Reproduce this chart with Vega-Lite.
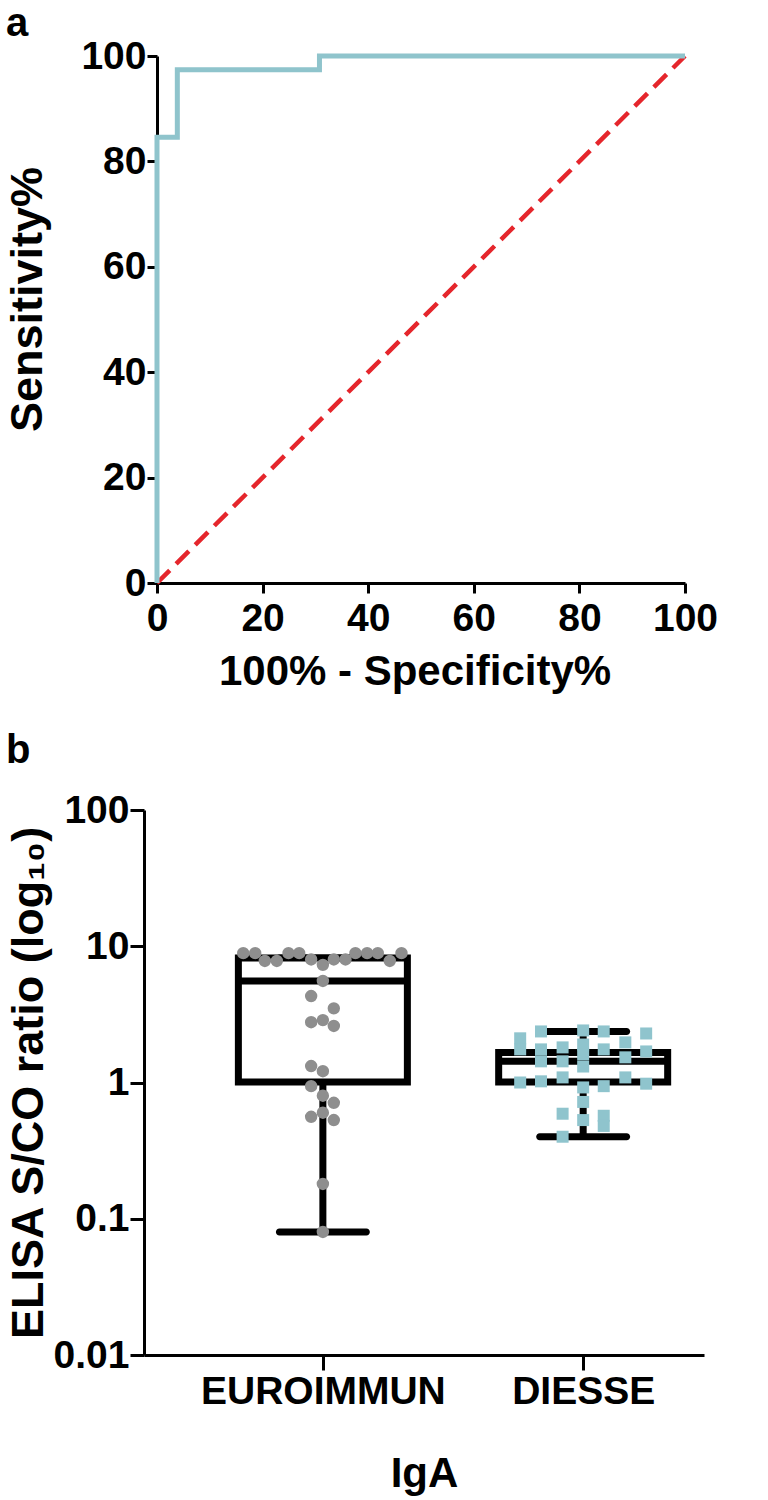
{
  "$schema": "https://vega.github.io/schema/vega-lite/v6.json",
  "background": "white",
  "padding": {"left": 5, "top": 4, "right": 5, "bottom": 5},
  "config": {
    "view": {"stroke": null},
    "font": "Liberation Sans",
    "axis": {
      "domainColor": "black", "domainWidth": 3, "tickColor": "black", "tickWidth": 3,
      "labelFontSize": 39, "labelFontWeight": "bold", "labelColor": "black", "labelLimit": 0,
      "titleFontSize": 42, "titleFontWeight": "bold", "titleColor": "black",
      "grid": false, "labelOverlap": false, "labelFlush": false
    },
    "title": {"fontSize": 40, "fontWeight": "bold", "color": "black", "anchor": "start", "frame": "bounds"}
  },
  "datasets": {
    "roc": [
      {"i": 0, "fpr": 0, "sens": 0},
      {"i": 1, "fpr": 0, "sens": 84.6},
      {"i": 2, "fpr": 3.85, "sens": 84.6},
      {"i": 3, "fpr": 3.85, "sens": 97.4},
      {"i": 4, "fpr": 30.77, "sens": 97.4},
      {"i": 5, "fpr": 30.77, "sens": 100},
      {"i": 6, "fpr": 100, "sens": 100}
    ],
    "ref": [
      {"fpr": 0, "sens": 0},
      {"fpr": 100, "sens": 100}
    ],
    "stats": [
      {"assay": "EUROIMMUN", "pos": 1, "min": 0.08, "q1": 1.01, "med": 5.56, "q3": 8.2, "max": 8.2},
      {"assay": "DIESSE", "pos": 2, "min": 0.40, "q1": 1.01, "med": 1.43, "q3": 1.66, "max": 2.37}
    ],
    "points": [
      {"assay": "EUROIMMUN", "pos": 0.694, "ratio": 8.9},
      {"assay": "EUROIMMUN", "pos": 0.740, "ratio": 8.9},
      {"assay": "EUROIMMUN", "pos": 0.777, "ratio": 7.8},
      {"assay": "EUROIMMUN", "pos": 0.823, "ratio": 7.8},
      {"assay": "EUROIMMUN", "pos": 0.868, "ratio": 8.9},
      {"assay": "EUROIMMUN", "pos": 0.909, "ratio": 8.9},
      {"assay": "EUROIMMUN", "pos": 0.955, "ratio": 8.0},
      {"assay": "EUROIMMUN", "pos": 1.000, "ratio": 7.3},
      {"assay": "EUROIMMUN", "pos": 1.042, "ratio": 8.0},
      {"assay": "EUROIMMUN", "pos": 1.087, "ratio": 8.0},
      {"assay": "EUROIMMUN", "pos": 1.125, "ratio": 8.9},
      {"assay": "EUROIMMUN", "pos": 1.170, "ratio": 8.9},
      {"assay": "EUROIMMUN", "pos": 1.211, "ratio": 8.9},
      {"assay": "EUROIMMUN", "pos": 1.257, "ratio": 7.8},
      {"assay": "EUROIMMUN", "pos": 1.302, "ratio": 8.9},
      {"assay": "EUROIMMUN", "pos": 1.000, "ratio": 5.56},
      {"assay": "EUROIMMUN", "pos": 0.955, "ratio": 4.31},
      {"assay": "EUROIMMUN", "pos": 1.042, "ratio": 3.50},
      {"assay": "EUROIMMUN", "pos": 0.955, "ratio": 2.77},
      {"assay": "EUROIMMUN", "pos": 1.000, "ratio": 2.87},
      {"assay": "EUROIMMUN", "pos": 1.042, "ratio": 2.60},
      {"assay": "EUROIMMUN", "pos": 0.955, "ratio": 1.32},
      {"assay": "EUROIMMUN", "pos": 1.000, "ratio": 1.21},
      {"assay": "EUROIMMUN", "pos": 0.955, "ratio": 0.94},
      {"assay": "EUROIMMUN", "pos": 1.000, "ratio": 0.80},
      {"assay": "EUROIMMUN", "pos": 1.042, "ratio": 0.71},
      {"assay": "EUROIMMUN", "pos": 0.955, "ratio": 0.56},
      {"assay": "EUROIMMUN", "pos": 1.000, "ratio": 0.60},
      {"assay": "EUROIMMUN", "pos": 1.042, "ratio": 0.53},
      {"assay": "EUROIMMUN", "pos": 1.000, "ratio": 0.18},
      {"assay": "EUROIMMUN", "pos": 1.000, "ratio": 0.08},
      {"assay": "DIESSE", "pos": 1.758, "ratio": 2.11},
      {"assay": "DIESSE", "pos": 1.758, "ratio": 1.75},
      {"assay": "DIESSE", "pos": 1.758, "ratio": 1.00},
      {"assay": "DIESSE", "pos": 1.838, "ratio": 2.37},
      {"assay": "DIESSE", "pos": 1.838, "ratio": 1.75},
      {"assay": "DIESSE", "pos": 1.838, "ratio": 1.43},
      {"assay": "DIESSE", "pos": 1.838, "ratio": 1.02},
      {"assay": "DIESSE", "pos": 1.921, "ratio": 1.81},
      {"assay": "DIESSE", "pos": 1.921, "ratio": 1.43},
      {"assay": "DIESSE", "pos": 1.921, "ratio": 1.09},
      {"assay": "DIESSE", "pos": 1.921, "ratio": 0.59},
      {"assay": "DIESSE", "pos": 1.921, "ratio": 0.40},
      {"assay": "DIESSE", "pos": 2.000, "ratio": 2.41},
      {"assay": "DIESSE", "pos": 2.000, "ratio": 1.90},
      {"assay": "DIESSE", "pos": 2.000, "ratio": 1.61},
      {"assay": "DIESSE", "pos": 2.000, "ratio": 1.31},
      {"assay": "DIESSE", "pos": 2.000, "ratio": 0.92},
      {"assay": "DIESSE", "pos": 2.000, "ratio": 0.72},
      {"assay": "DIESSE", "pos": 2.000, "ratio": 0.53},
      {"assay": "DIESSE", "pos": 2.079, "ratio": 2.37},
      {"assay": "DIESSE", "pos": 2.079, "ratio": 1.75},
      {"assay": "DIESSE", "pos": 2.079, "ratio": 0.94},
      {"assay": "DIESSE", "pos": 2.079, "ratio": 0.57},
      {"assay": "DIESSE", "pos": 2.079, "ratio": 0.48},
      {"assay": "DIESSE", "pos": 2.162, "ratio": 1.97},
      {"assay": "DIESSE", "pos": 2.162, "ratio": 1.53},
      {"assay": "DIESSE", "pos": 2.162, "ratio": 1.09},
      {"assay": "DIESSE", "pos": 2.242, "ratio": 2.29},
      {"assay": "DIESSE", "pos": 2.242, "ratio": 1.69},
      {"assay": "DIESSE", "pos": 2.242, "ratio": 0.98}
    ]
  },
  "vconcat": [
    {
      "width": 541,
      "height": 527,
      "title": {"text": "a", "offset": -7},
      "layer": [
        {
          "data": {"name": "ref"},
          "mark": {"type": "line", "color": "#E5262C", "strokeWidth": 4.5, "strokeDash": [18, 9]},
          "encoding": {
            "x": {"field": "fpr", "type": "quantitative", "scale": {"domain": [-2.462, 100], "nice": false, "zero": false},
                  "axis": {"title": "100% - Specificity%", "values": [0, 20, 40, 60, 80, 100], "tickSize": 10, "labelPadding": 6, "titlePadding": 13, "domainDash": [0, 13, 700]}},
            "y": {"field": "sens", "type": "quantitative", "scale": {"domain": [0, 100], "nice": false},
                  "axis": {"title": "Sensitivity%", "titleFontSize": 45, "titleY": 243, "values": [0, 20, 40, 60, 80, 100], "tickSize": 10, "labelPadding": 1, "titlePadding": 30, "offset": -13}}
          }
        },
        {
          "data": {"name": "roc"},
          "mark": {"type": "line", "color": "#8FC4CC", "strokeWidth": 5},
          "encoding": {
            "x": {"field": "fpr", "type": "quantitative"},
            "y": {"field": "sens", "type": "quantitative"},
            "order": {"field": "i", "type": "quantitative"}
          }
        }
      ]
    },
    {
      "width": 560,
      "height": 545,
      "title": {"text": "b", "offset": 20},
      "layer": [
        {
          "data": {"name": "stats"},
          "mark": {"type": "rule", "strokeWidth": 7, "color": "black"},
          "encoding": {
            "x": {"field": "pos", "type": "quantitative", "scale": {"domain": [0.332, 2.445], "nice": false, "zero": false},
                  "axis": {"title": "IgA", "values": [1, 2], "labelExpr": "datum.value == 1 ? 'EUROIMMUN' : 'DIESSE'", "tickSize": 15, "labelPadding": 2, "titlePadding": 42}},
            "y": {"field": "min", "type": "quantitative", "scale": {"type": "log", "domain": [0.01, 100], "nice": false},
                  "axis": {"title": "ELISA S/CO ratio (log₁₀)", "titleFontSize": 45, "values": [0.01, 0.1, 1, 10, 100], "format": "~g", "tickSize": 14, "labelPadding": 1, "titlePadding": 2}},
            "y2": {"field": "max"}
          }
        },
        {
          "data": {"name": "stats"},
          "mark": {"type": "tick", "orient": "horizontal", "size": 94, "thickness": 7, "color": "black", "cornerRadius": 3.5, "opacity": 1},
          "encoding": {
            "x": {"field": "pos", "type": "quantitative"},
            "y": {"field": "min", "type": "quantitative"}
          }
        },
        {
          "data": {"name": "stats"},
          "mark": {"type": "tick", "orient": "horizontal", "size": 94, "thickness": 7, "color": "black", "cornerRadius": 3.5, "opacity": 1},
          "encoding": {
            "x": {"field": "pos", "type": "quantitative"},
            "y": {"field": "max", "type": "quantitative"}
          }
        },
        {
          "data": {"name": "stats"},
          "mark": {"type": "bar", "size": 169, "fill": "white", "stroke": "black", "strokeWidth": 7},
          "encoding": {
            "x": {"field": "pos", "type": "quantitative"},
            "y": {"field": "q1", "type": "quantitative"},
            "y2": {"field": "q3"}
          }
        },
        {
          "data": {"name": "stats"},
          "mark": {"type": "tick", "orient": "horizontal", "size": 169, "thickness": 7, "color": "black", "opacity": 1},
          "encoding": {
            "x": {"field": "pos", "type": "quantitative"},
            "y": {"field": "med", "type": "quantitative"}
          }
        },
        {
          "data": {"name": "points"},
          "transform": [{"filter": "datum.assay == 'EUROIMMUN'"}],
          "mark": {"type": "point", "shape": "circle", "filled": true, "size": 154, "color": "#8E8E8E", "opacity": 1},
          "encoding": {
            "x": {"field": "pos", "type": "quantitative"},
            "y": {"field": "ratio", "type": "quantitative"}
          }
        },
        {
          "data": {"name": "points"},
          "transform": [{"filter": "datum.assay == 'DIESSE'"}],
          "mark": {"type": "point", "shape": "square", "filled": true, "size": 144, "color": "#8FC4CD", "opacity": 1},
          "encoding": {
            "x": {"field": "pos", "type": "quantitative"},
            "y": {"field": "ratio", "type": "quantitative"}
          }
        }
      ]
    }
  ],
  "bounds": "full",
  "spacing": 39
}
